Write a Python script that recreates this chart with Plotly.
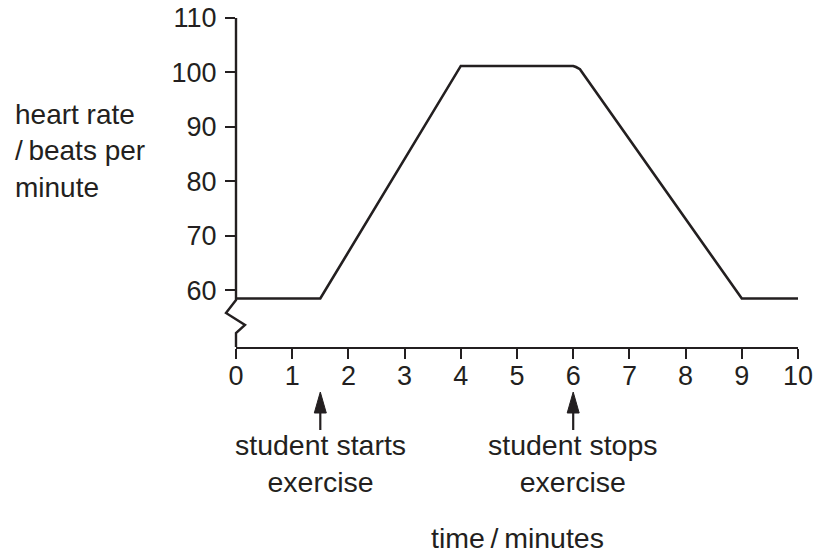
import plotly.graph_objects as go

# data
time_min = [0, 1.5, 4, 6, 6.05, 6.12, 9, 10]
heart_rate = [58.5, 58.5, 101.2, 101.2, 101.0, 100.6, 58.5, 58.5]
y_ticks = [60, 70, 80, 90, 100, 110]
x_ticks = list(range(0, 11))
event_times = [1.5, 6]
event_labels = ["student starts<br>exercise", "student stops<br>exercise"]

INK = "#231f20"
FONT = "Arial, Liberation Sans, sans-serif"
Y_MIN, Y_MAX = 49.6, 110
X_MIN, X_MAX = 0, 10

W, H = 817, 556
ML, MR, MT, MB = 236, 19, 18, 209
PW, PH = W - ML - MR, H - MT - MB

def px_x(px):  # pixel offset from plot left -> paper x
    return px / PW
def px_y(py):  # pixel offset below plot bottom (positive = down) -> paper y
    return -py / PH
def yp_from_top(py):
    return 1 - py / PH
def paper_of_x(v):
    return (v - X_MIN) / (X_MAX - X_MIN)

fig = go.Figure()
fig.add_trace(go.Scatter(x=time_min, y=heart_rate, mode="lines",
                         line=dict(color=INK, width=2.6), hoverinfo="skip",
                         cliponaxis=False))

fig.update_layout(
    width=W, height=H,
    margin=dict(l=ML, r=MR, t=MT, b=MB, autoexpand=False),
    paper_bgcolor="white", plot_bgcolor="white",
    showlegend=False,
    font=dict(family=FONT, color=INK, size=27),
    xaxis=dict(range=[X_MIN, X_MAX], tickvals=x_ticks, ticks="outside", ticklen=10,
               tickwidth=2.2, tickcolor=INK, showline=True, linecolor=INK,
               linewidth=2.4, showgrid=False, zeroline=False, automargin=False,
               ticklabelstandoff=-7, ticklabeloverflow="allow",
               tickfont=dict(size=27, color=INK, family=FONT)),
    yaxis=dict(range=[Y_MIN, Y_MAX], tickvals=y_ticks, ticks="outside", ticklen=10,
               tickwidth=2.2, tickcolor=INK, showline=False, showgrid=False,
               zeroline=False, automargin=False, ticklabelstandoff=3,
               ticklabeloverflow="allow",
               tickfont=dict(size=27, color=INK, family=FONT)),
)

# y axis line with break (zigzag), in paper coordinates
axis_path = (f"M 0 1 L 0 {yp_from_top(282)} L {px_x(-10)} {yp_from_top(295)} "
             f"L {px_x(9)} {yp_from_top(307)} L 0 {yp_from_top(315)} L 0 0")
fig.add_shape(type="path", path=axis_path, xref="paper", yref="paper",
              line=dict(color=INK, width=2.4))

# event arrows and labels
for ex, label in zip(event_times, event_labels):
    xp = paper_of_x(ex)
    fig.add_shape(type="line", xref="paper", yref="paper",
                  x0=xp, x1=xp, y0=px_y(60), y1=px_y(83),
                  line=dict(color=INK, width=2.2))
    head = (f"M {xp} {px_y(45)} L {xp - px_x(6)} {px_y(66)} "
            f"L {xp + px_x(6)} {px_y(66)} Z")
    fig.add_shape(type="path", path=head, xref="paper", yref="paper",
                  fillcolor=INK, line=dict(color=INK, width=1))
    fig.add_annotation(x=ex, y=px_y(116), xref="x", yref="paper", text=label,
                       showarrow=False, xanchor="center", yanchor="middle",
                       font=dict(size=28.5, color=INK, family=FONT))

fig.add_annotation(x=5, y=px_y(191), xref="x", yref="paper", text="time\u2009/\u2009minutes",
                   showarrow=False, xanchor="center", yanchor="middle",
                   font=dict(size=28.5, color=INK, family=FONT))
fig.add_annotation(x=px_x(-223), y=yp_from_top(133), xref="paper", yref="paper",
                   text="heart rate<br>/\u2009beats per<br>minute",
                   showarrow=False, xanchor="left", yanchor="middle", align="left",
                   font=dict(size=28, color=INK, family=FONT))

fig.write_html(
    "out.html",
    config={"displayModeBar": False},
    post_script="document.body.style.margin='0';document.body.style.overflow='hidden';",
)
